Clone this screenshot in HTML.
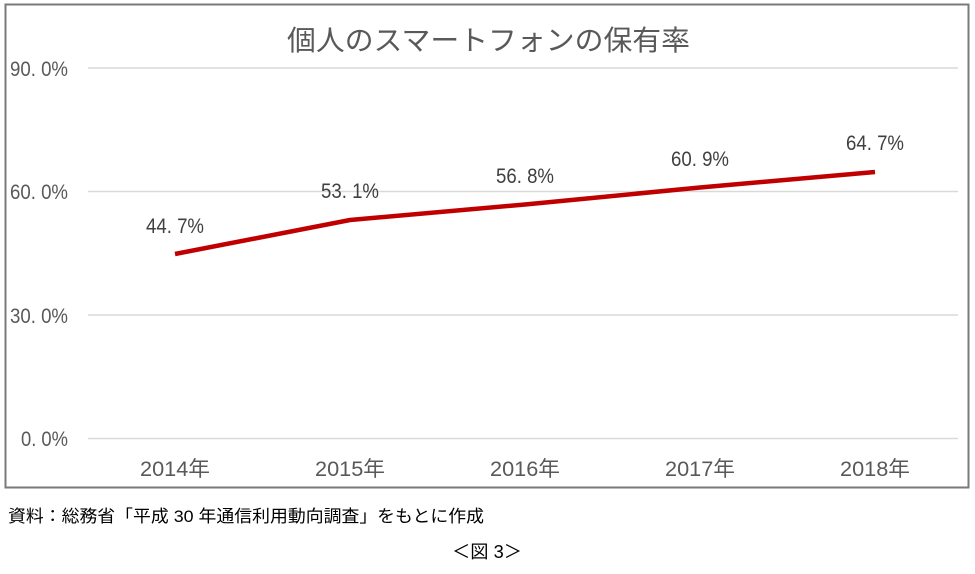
<!DOCTYPE html>
<html><head><meta charset="utf-8"><style>
body{margin:0;background:#fff;width:975px;height:569px;overflow:hidden}
svg text{font-family:"Liberation Sans","Noto Sans CJK JP",sans-serif}
</style></head><body>
<svg width="975" height="569" xmlns="http://www.w3.org/2000/svg">
<rect x="5.5" y="4.5" width="963" height="483" fill="#fff" stroke="#7a7a7a" stroke-width="2"/>
<text x="287" y="50" font-size="28" fill="#595959" textLength="403" lengthAdjust="spacingAndGlyphs" font-family="Noto Sans CJK JP">個人のスマートフォンの保有率</text>
<g stroke="#d9d9d9" stroke-width="1.5">
<line x1="88" y1="68" x2="958" y2="68"/>
<line x1="88" y1="191.5" x2="958" y2="191.5"/>
<line x1="88" y1="315" x2="958" y2="315"/>
<line x1="88" y1="438.5" x2="958" y2="438.5"/>
</g>
<g font-size="21" fill="#595959">
<text x="10" y="76" textLength="58" lengthAdjust="spacingAndGlyphs">90. 0%</text>
<text x="10" y="199" textLength="58" lengthAdjust="spacingAndGlyphs">60. 0%</text>
<text x="10" y="323" textLength="58" lengthAdjust="spacingAndGlyphs">30. 0%</text>
<text x="21" y="446" textLength="47" lengthAdjust="spacingAndGlyphs">0. 0%</text>
</g>
<g font-size="21" fill="#595959" text-anchor="middle">
<text x="175" y="476" textLength="70" lengthAdjust="spacingAndGlyphs">2014年</text>
<text x="350" y="476" textLength="70" lengthAdjust="spacingAndGlyphs">2015年</text>
<text x="525" y="476" textLength="70" lengthAdjust="spacingAndGlyphs">2016年</text>
<text x="700" y="476" textLength="70" lengthAdjust="spacingAndGlyphs">2017年</text>
<text x="875" y="476" textLength="70" lengthAdjust="spacingAndGlyphs">2018年</text>
</g>
<polyline points="175,254 350,220 525,204.5 700,187.5 875,172" fill="none" stroke="#c00000" stroke-width="4.5" stroke-linejoin="round"/>
<g font-size="21" fill="#404040" text-anchor="middle">
<text x="175" y="233" textLength="58" lengthAdjust="spacingAndGlyphs">44. 7%</text>
<text x="350" y="198" textLength="58" lengthAdjust="spacingAndGlyphs">53. 1%</text>
<text x="525" y="183" textLength="58" lengthAdjust="spacingAndGlyphs">56. 8%</text>
<text x="700" y="166" textLength="58" lengthAdjust="spacingAndGlyphs">60. 9%</text>
<text x="875" y="150" textLength="58" lengthAdjust="spacingAndGlyphs">64. 7%</text>
</g>
<text x="8" y="522" font-size="17" fill="#000" textLength="476" lengthAdjust="spacingAndGlyphs">資料：総務省「平成 30 年通信利用動向調査」をもとに作成</text>
<text x="452" y="558" font-size="18" fill="#000" textLength="70" lengthAdjust="spacingAndGlyphs">＜図 3＞</text>
</svg>
</body></html>
